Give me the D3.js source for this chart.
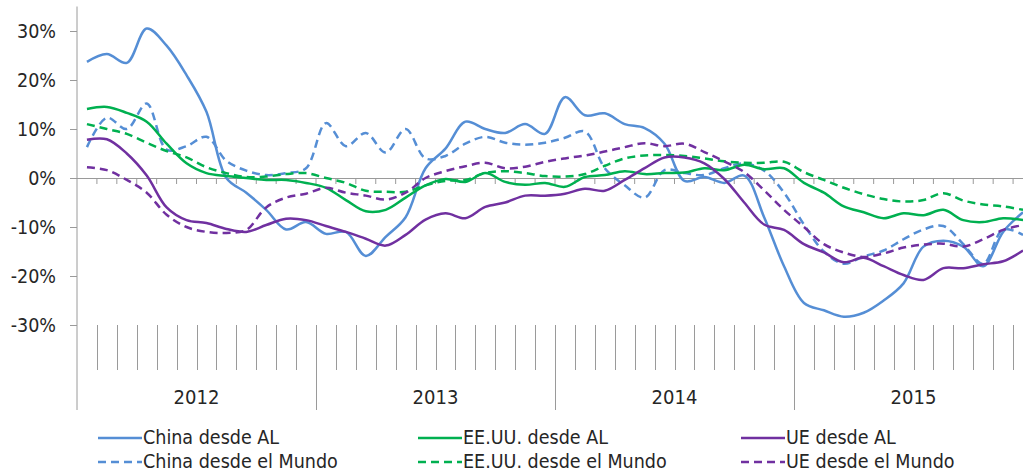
<!DOCTYPE html>
<html>
<head>
<meta charset="utf-8">
<script src="https://cdn.jsdelivr.net/npm/d3@7"></script>
<style>
  body { margin: 0; background: #fff; }
  svg { display: block; }
  text { font-family: "DejaVu Sans Condensed", "Liberation Sans", sans-serif; fill: #262626; }
</style>
</head>
<body>
<svg id="chart" width="1023" height="472"></svg>
<script>
// categories: monthly, 2012-2015
const years = ["2012", "2013", "2014", "2015"];
const monthNames = ["ene", "feb", "mar", "abr", "may", "jun", "jul", "ago", "sep", "oct", "nov", "dic"];
const months = years.flatMap(y => monthNames.map(m => m + "-" + y));

// values in %
const chinaAL = [23.7, 25.3, 23.5, 30.5, 27, 21, 13.5, 0, -3, -6.5, -10.5, -9,
  -11.4, -11, -15.9, -12, -8, 2, 6, 11.5, 10, 9.2, 11, 9,
  16.5, 12.8, 13.2, 11, 10.2, 7, -0.6, 0.2, -1, 0.5, -8, -18,
  -25.5, -27, -28.3, -27.5, -25, -21.5, -14, -12.8, -14, -18, -11, -7];
const chinaMundo = [6.3, 12.3, 10, 15.2, 5.8, 6.5, 8.4, 3.5, 1.5, 0.6, 1, 2,
  11.2, 6.5, 9.2, 5.2, 10, 4, 4.5, 7, 8.4, 7.2, 6.8, 7.2,
  8.2, 9.5, 2, -1.5, -4, 1.6, 1, 0.6, 2, 3, 1.5, -3,
  -9.5, -15, -17.5, -16, -14.8, -12.5, -10.5, -9.8, -13.5, -17.5, -10.5, -11.6];
const eeuuAL = [14.1, 14.5, 13.3, 11.5, 7, 3, 1, 0.4, 0, -0.4, -0.4, -1,
  -2, -4.5, -6.8, -6.5, -4, -1.5, -0.2, -0.8, 1, -0.8, -1.4, -1,
  -1.8, 0.2, 0.6, 1.4, 0.8, 1, 1.1, 2, 1.6, 2.7, 1.8, 2,
  -1, -3, -5.8, -7, -8.2, -7.2, -7.6, -6.5, -8.6, -9, -8.2, -8.6];
const eeuuMundo = [11, 10, 9, 7.2, 5.5, 4.2, 2.2, 1, 0.2, 0.3, 0.8, 1,
  0, -1, -2.6, -2.8, -2.8, -1.5, -0.6, -0.4, 1, 1.4, 1, 0.4,
  0.3, 0.8, 2.5, 4, 4.6, 4.7, 4.5, 4, 3.4, 3.1, 3.1, 3.3,
  1.2, -0.4, -2, -3.3, -4.3, -4.8, -4.5, -3.1, -4.6, -5.4, -5.8, -6.5];
const ueAL = [7.8, 7.9, 5, 0.5, -6, -8.6, -9.2, -10.4, -11, -9.6, -8.3, -8.6,
  -9.8, -11, -12.4, -13.8, -11.6, -8.5, -7.2, -8.2, -5.9, -5, -3.6, -3.6,
  -3.2, -2.2, -2.6, -0.4, 2, 4.2, 4.2, 3, -0.2, -5, -9.5, -10.6,
  -13.5, -15.2, -17.2, -16.3, -18, -19.8, -20.8, -18.4, -18.4, -17.6, -17, -14.8];
const ueMundo = [2.2, 1.6, -0.4, -3, -7.5, -10, -11, -11.2, -10.6, -6, -4, -3.2,
  -2, -3, -3.6, -4.4, -3, 0, 1.4, 2.4, 3.1, 2, 2.3, 3.3,
  4, 4.6, 5.4, 6.3, 7.1, 6.5, 7, 5.3, 3.4, 1.2, -2.5, -6.5,
  -10, -13.5, -15.2, -16.1, -15.4, -14.2, -13.6, -13.4, -14, -12.5, -10.6, -9.6];

const yTicks = [-30, -20, -10, 0, 10, 20, 30];

const series = [
  {name: "China desde AL", values: chinaAL, colour: "#558ED5", dashed: false},
  {name: "China desde el Mundo", values: chinaMundo, colour: "#558ED5", dashed: true},
  {name: "EE.UU. desde AL", values: eeuuAL, colour: "#00B050", dashed: false},
  {name: "EE.UU. desde el Mundo", values: eeuuMundo, colour: "#00B050", dashed: true},
  {name: "UE desde AL", values: ueAL, colour: "#7030A0", dashed: false},
  {name: "UE desde el Mundo", values: ueMundo, colour: "#7030A0", dashed: true}
];

const svg = d3.select("#chart");
const plotLeft = 77, plotRight = 1033, plotTop = 6.5, plotBottom = 325;
const axisCol = "#9a9a9a";

let x = d3.scalePoint().domain(months).range([plotLeft, plotRight]).padding(0.5);
let band = d3.scaleBand().domain(months).range([plotLeft, plotRight]);
let y = d3.scaleLinear().domain([-30, 35]).range([plotBottom, plotTop]);

// y axis
let yAxis = svg.append("g").attr("transform", `translate(${plotLeft},0)`)
  .call(d3.axisLeft(y).tickValues(yTicks).tickSize(7).tickPadding(14).tickFormat(d => d + "%"));
yAxis.select(".domain").remove();
yAxis.selectAll("line").attr("stroke", axisCol);
yAxis.selectAll("text").attr("font-size", 19.5).attr("font-family", null).attr("fill", "#262626");
svg.append("line").attr("x1", plotLeft).attr("x2", plotLeft).attr("y1", plotTop).attr("y2", 410)
  .attr("stroke", axisCol);

// zero line with month ticks
let xAxis = svg.append("g").attr("transform", `translate(0,${y(0)})`)
  .call(d3.axisBottom(band).tickValues(months.slice(1)).tickSize(6).tickFormat(""));
xAxis.selectAll("line").attr("stroke", axisCol).attr("transform", `translate(${-band.bandwidth() / 2},0)`);
xAxis.select(".domain").attr("d", `M${plotLeft},0.5H${plotRight}`).attr("stroke", axisCol);

// month separators at the bottom and year separators
months.forEach((m, i) => {
  if (i === 0) return;
  let bx = Math.round(band(m)) + 0.5;
  let isYear = i % 12 === 0;
  svg.append("line").attr("x1", bx).attr("x2", bx)
    .attr("y1", plotBottom).attr("y2", isYear ? 410 : 370)
    .attr("stroke", axisCol);
});
years.forEach((yr, i) => {
  let x0 = band(months[i * 12]), x1 = band(months[i * 12 + 11]) + band.bandwidth();
  svg.append("text").attr("x", (x0 + x1) / 2).attr("y", 404)
    .attr("text-anchor", "middle").attr("font-size", 20).text(yr);
});

// lines
let line = d3.line()
  .x((d, i) => x(months[i]))
  .y(d => y(d))
  .curve(d3.curveCatmullRom.alpha(0.5));

let plot = svg.append("g");
series.forEach(s => {
  plot.append("path")
    .attr("d", line(s.values))
    .attr("fill", "none")
    .attr("stroke", s.colour)
    .attr("stroke-width", 2.5)
    .attr("stroke-dasharray", s.dashed ? "8,5" : null);
});

// legend
const legendCols = [98, 418, 741];
const legendRows = [438, 462];
series.forEach((s, i) => {
  let lx = legendCols[Math.floor(i / 2)], ly = legendRows[i % 2];
  svg.append("line").attr("x1", lx).attr("x2", lx + 44).attr("y1", ly).attr("y2", ly)
    .attr("stroke", s.colour).attr("stroke-width", 2.5)
    .attr("stroke-dasharray", s.dashed ? "8,5" : null);
  svg.append("text").attr("x", lx + 45).attr("y", ly + 6)
    .attr("font-size", 19.5).text(s.name);
});
</script>
</body>
</html>
